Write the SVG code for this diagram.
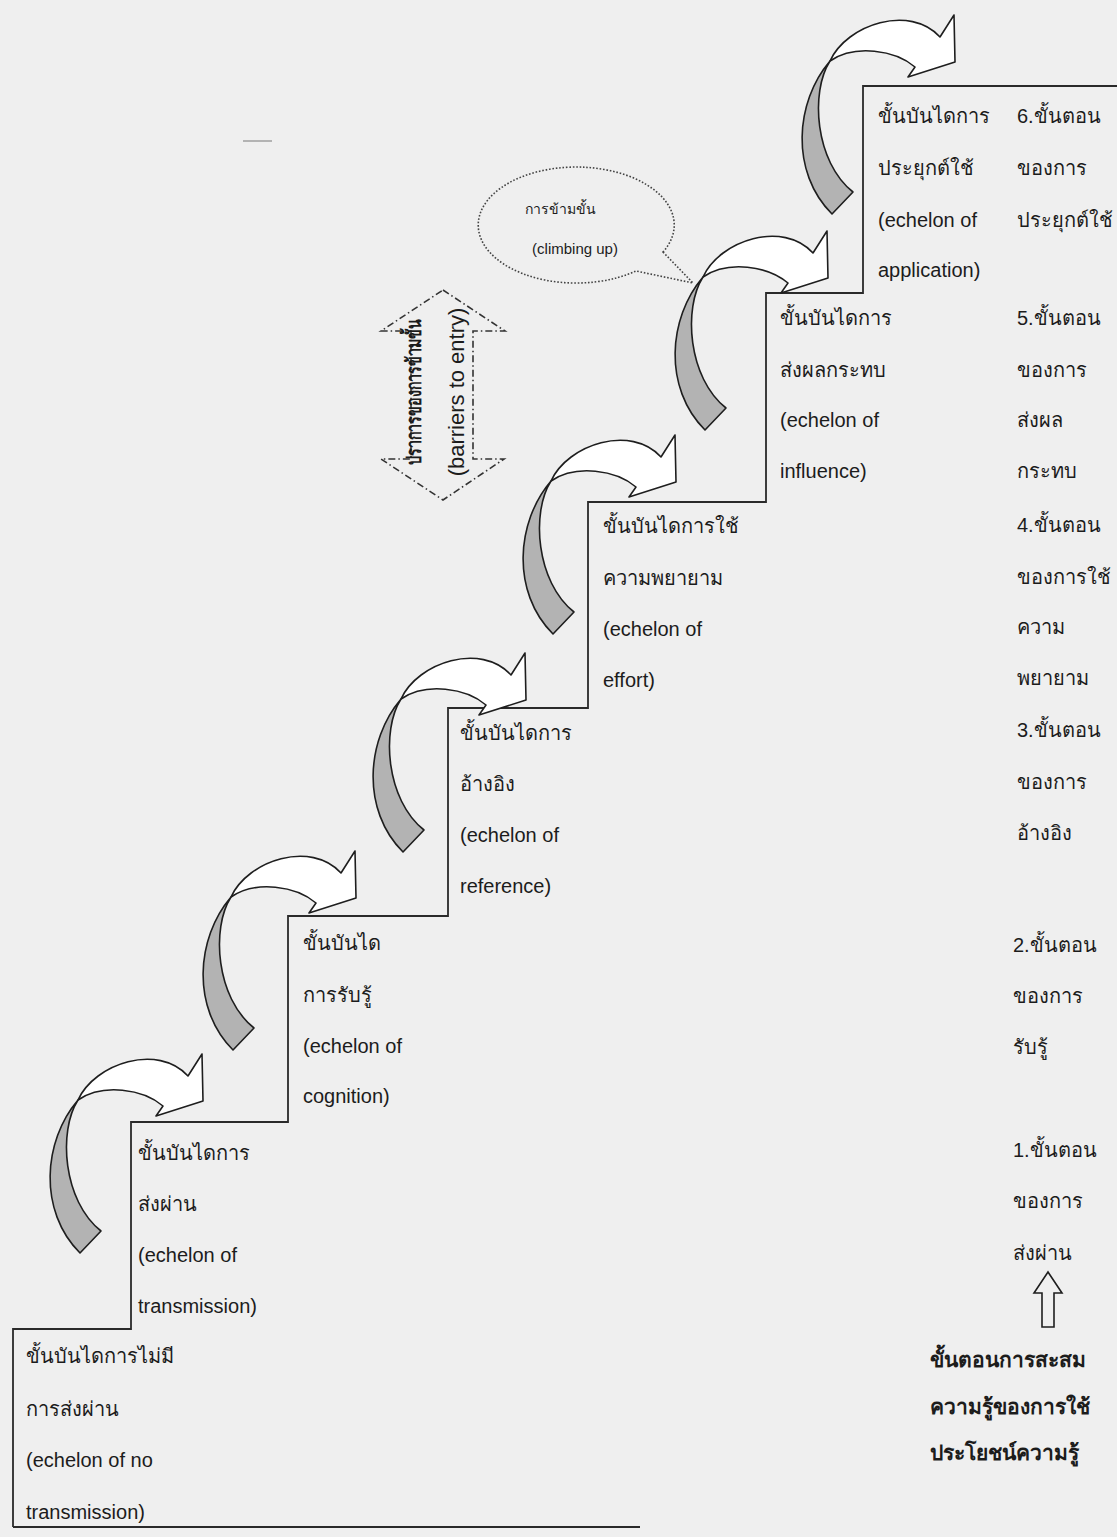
<svg xmlns="http://www.w3.org/2000/svg" xmlns:xlink="http://www.w3.org/1999/xlink" width="1117" height="1537" viewBox="0 0 1117 1537">
  <style>
    .lbl { font-family: "Liberation Sans", "Noto Sans", "DejaVu Sans", sans-serif; font-size: 20px; fill: #1c1c1c; }
    .bold { font-weight: bold; }
    .stair { fill: none; stroke: #2a2a2a; stroke-width: 1.8; stroke-linejoin: miter; }
    .band { stroke: #1e1e1e; stroke-width: 1.6; stroke-linejoin: round; }
    .front { fill: #ffffff; }
    .back { fill: #b3b3b3; }
    .dashdot { fill: none; stroke: #333; stroke-width: 1.6; stroke-dasharray: 7 3 1.5 3; }
    .dotted { fill: none; stroke: #444; stroke-width: 1.6; stroke-dasharray: 1.6 1.8; }
    .hollow { fill: none; stroke: #1e1e1e; stroke-width: 1.6; stroke-linejoin: miter; }
  </style>
  <defs>
    <!-- curved climbing arrow, tip of the head at the origin -->
    <g id="climb">
      <path class="band back" d="M -125,-1 C -160,40 -165,110 -123,152 L -102,130 C -140,100 -145,30 -125,-1 Z"/>
      <path class="band front" d="M -125,-1 C -108,-38 -45,-58 -15,-25 L -1,-47 L 0,0 L -47,15 L -40,5 C -60,-12 -100,-18 -125,-1 Z"/>
    </g>
  </defs>

  <rect x="0" y="0" width="1117" height="1537" fill="#efefef"/>
  <line x1="243" y1="141" x2="272" y2="141" stroke="#8a8a8a" stroke-width="1.2"/>

  <!-- staircase outline -->
  <g id="staircase">
    <polyline class="stair" points="13,1527 13,1329 131,1329 131,1122 288,1122 288,916 448,916 448,708 588,708 588,502 766,502 766,293 863,293 863,86 1117,86"/>
    <line class="stair" x1="13" y1="1527" x2="640" y2="1527"/>
  </g>

  <!-- arrows climbing from one step to the next -->
  <g id="connectors">
    <use xlink:href="#climb" x="203" y="1101"/>
    <use xlink:href="#climb" x="356" y="898"/>
    <use xlink:href="#climb" x="526" y="700"/>
    <use xlink:href="#climb" x="676" y="482"/>
    <use xlink:href="#climb" x="828" y="278"/>
    <use xlink:href="#climb" x="955" y="62"/>
  </g>

  <!-- step 0 -->
  <g id="step0" class="lbl">
    <text x="26" y="1363">ขั้นบันไดการไม่มี</text>
    <text x="26" y="1416">การส่งผ่าน</text>
    <text x="26" y="1467">(echelon of no</text>
    <text x="26" y="1519">transmission)</text>
  </g>

  <!-- step 1 -->
  <g id="step1" class="lbl">
    <text x="138" y="1160">ขั้นบันไดการ</text>
    <text x="138" y="1211">ส่งผ่าน</text>
    <text x="138" y="1262">(echelon of</text>
    <text x="138" y="1313">transmission)</text>
  </g>

  <!-- step 2 -->
  <g id="step2" class="lbl">
    <text x="303" y="950">ขั้นบันได</text>
    <text x="303" y="1002">การรับรู้</text>
    <text x="303" y="1053">(echelon of</text>
    <text x="303" y="1103">cognition)</text>
  </g>

  <!-- step 3 -->
  <g id="step3" class="lbl">
    <text x="460" y="740">ขั้นบันไดการ</text>
    <text x="460" y="791">อ้างอิง</text>
    <text x="460" y="842">(echelon of</text>
    <text x="460" y="893">reference)</text>
  </g>

  <!-- step 4 -->
  <g id="step4" class="lbl">
    <text x="603" y="533">ขั้นบันไดการใช้</text>
    <text x="603" y="585">ความพยายาม</text>
    <text x="603" y="636">(echelon of</text>
    <text x="603" y="687">effort)</text>
  </g>

  <!-- step 5 -->
  <g id="step5" class="lbl">
    <text x="780" y="325">ขั้นบันไดการ</text>
    <text x="780" y="377">ส่งผลกระทบ</text>
    <text x="780" y="427">(echelon of</text>
    <text x="780" y="478">influence)</text>
  </g>

  <!-- step 6 -->
  <g id="step6" class="lbl">
    <text x="878" y="123">ขั้นบันไดการ</text>
    <text x="878" y="175">ประยุกต์ใช้</text>
    <text x="878" y="227">(echelon of</text>
    <text x="878" y="277">application)</text>
  </g>

  <!-- stage column on the right -->
  <g id="stages" class="lbl">
    <text x="1017" y="123">6.ขั้นตอน</text>
    <text x="1017" y="175">ของการ</text>
    <text x="1017" y="227">ประยุกต์ใช้</text>
    <text x="1017" y="325">5.ขั้นตอน</text>
    <text x="1017" y="377">ของการ</text>
    <text x="1017" y="427">ส่งผล</text>
    <text x="1017" y="478">กระทบ</text>
    <text x="1017" y="532">4.ขั้นตอน</text>
    <text x="1017" y="584">ของการใช้</text>
    <text x="1017" y="634">ความ</text>
    <text x="1017" y="685">พยายาม</text>
    <text x="1017" y="737">3.ขั้นตอน</text>
    <text x="1017" y="789">ของการ</text>
    <text x="1017" y="840">อ้างอิง</text>
    <text x="1013" y="952">2.ขั้นตอน</text>
    <text x="1013" y="1003">ของการ</text>
    <text x="1013" y="1054">รับรู้</text>
    <text x="1013" y="1157">1.ขั้นตอน</text>
    <text x="1013" y="1208">ของการ</text>
    <text x="1013" y="1260">ส่งผ่าน</text>
  </g>

  <!-- hollow up arrow and the caption below it -->
  <g id="accumulation">
    <path class="hollow" d="M 1048,1272 L 1062,1293 L 1054,1293 L 1054,1327 L 1042,1327 L 1042,1293 L 1034,1293 Z"/>
    <g class="lbl bold" style="font-size:21px">
      <text x="930" y="1367">ขั้นตอนการสะสม</text>
      <text x="930" y="1414">ความรู้ของการใช้</text>
      <text x="930" y="1460">ประโยชน์ความรู้</text>
    </g>
  </g>

  <!-- barriers to entry: double-headed dash-dot arrow -->
  <g id="barriers">
    <path class="dashdot" d="M 443,290 L 505,331 L 473,331 L 473,459 L 504,459 L 443,500 L 381,459 L 411,459 L 411,331 L 381,331 Z"/>
    <text class="lbl bold" font-size="12" x="0" y="0" text-anchor="middle" textLength="146" lengthAdjust="spacingAndGlyphs" transform="translate(421,392) rotate(-90)">ปราการของการข้ามขั้น</text>
    <text class="lbl" x="0" y="0" text-anchor="middle" style="font-size:22px" transform="translate(464,392) rotate(-90)">(barriers to entry)</text>
  </g>

  <!-- climbing up callout -->
  <g id="climbing-up">
    <path class="dotted" d="M 663,252 L 693,283 L 636,271 A 98,58 0 1 1 663,252 Z"/>
    <text class="lbl" style="font-size:14px" x="560" y="214" text-anchor="middle">การข้ามขั้น</text>
    <text class="lbl" style="font-size:15px" x="575" y="254" text-anchor="middle">(climbing up)</text>
  </g>
</svg>
